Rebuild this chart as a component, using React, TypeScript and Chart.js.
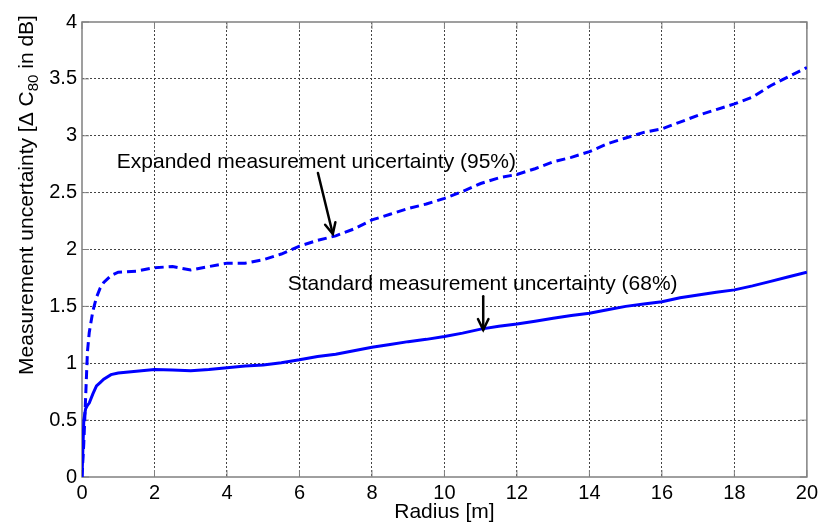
import React, { useEffect, useRef } from "react";
import { Chart, registerables } from "chart.js";

Chart.register(...registerables);

// ---- data ----
const radius = [
  0, 0.05, 0.1, 0.15, 0.2, 0.3, 0.4, 0.5, 0.6, 0.8, 1, 1.5, 2, 2.5, 3, 3.5, 4,
  4.5, 5, 5.5, 6, 6.5, 7, 7.5, 8, 8.5, 9, 9.5, 10, 10.5, 11, 11.5, 12, 12.5, 13,
  13.5, 14, 14.5, 15, 15.5, 16, 16.5, 17, 17.5, 18, 18.5, 19, 19.5, 20,
];

const expanded = [
  0, 0.3, 0.7, 1.1, 1.27, 1.46, 1.58, 1.66, 1.71, 1.77, 1.8, 1.81, 1.84, 1.85,
  1.82, 1.85, 1.88, 1.88, 1.91, 1.96, 2.03, 2.08, 2.12, 2.18, 2.26, 2.31, 2.36,
  2.4, 2.45, 2.51, 2.58, 2.63, 2.66, 2.71, 2.77, 2.81, 2.86, 2.93, 2.98, 3.03,
  3.06, 3.12, 3.18, 3.23, 3.28, 3.34, 3.44, 3.52, 3.6,
];

const standard = [
  0, 0.5, 0.6, 0.63, 0.65, 0.73, 0.8, 0.83, 0.86, 0.9, 0.915, 0.93, 0.945,
  0.94, 0.935, 0.945, 0.96, 0.975, 0.985, 1.005, 1.03, 1.06, 1.08, 1.11, 1.14,
  1.165, 1.19, 1.21, 1.235, 1.265, 1.3, 1.325, 1.345, 1.37, 1.395, 1.42, 1.44,
  1.47, 1.5, 1.52, 1.54, 1.575, 1.6, 1.625, 1.645, 1.68, 1.72, 1.76, 1.8,
];

const xRange = [0, 20];
const yRange = [0, 4];
const xStep = 2;
const yStep = 0.5;

const xTitle = "Radius [m]";
const yTitleParts = ["Measurement uncertainty [\u0394 C", "80", " in dB]"];

// annotations in data coordinates
const annotations = [
  {
    text: "Expanded measurement uncertainty (95%)",
    textAt: [0.96, 2.72],
    from: [6.51, 2.673],
    to: [6.92, 2.136],
  },
  {
    text: "Standard measurement uncertainty (68%)",
    textAt: [5.675, 1.64],
    from: [11.07, 1.589],
    to: [11.07, 1.294],
  },
];

const FONT = '"Liberation Sans", Arial, Helvetica, sans-serif';

const framePlugin = {
  id: "matlabFrame",
  beforeDatasetsDraw(chart: any) {
    const { ctx, chartArea: a, scales } = chart;
    const x = scales.x;
    const y = scales.y;
    ctx.save();
    ctx.strokeStyle = "#808080";
    ctx.lineWidth = 1;
    const L = 7;
    ctx.beginPath();
    x.ticks.forEach((t: any) => {
      const px = x.getPixelForValue(t.value);
      ctx.moveTo(px, a.bottom);
      ctx.lineTo(px, a.bottom - L);
      ctx.moveTo(px, a.top);
      ctx.lineTo(px, a.top + L);
    });
    y.ticks.forEach((t: any) => {
      const py = y.getPixelForValue(t.value);
      ctx.moveTo(a.left, py);
      ctx.lineTo(a.left + L, py);
      ctx.moveTo(a.right, py);
      ctx.lineTo(a.right - L, py);
    });
    ctx.stroke();
    ctx.lineWidth = 1.5;
    ctx.strokeRect(a.left, a.top, a.right - a.left, a.bottom - a.top);
    ctx.restore();
  },
  afterDatasetsDraw(chart: any) {
    const { ctx, scales } = chart;
    const x = scales.x;
    const y = scales.y;
    ctx.save();
    ctx.fillStyle = "#000";
    ctx.strokeStyle = "#000";
    ctx.font = `21px ${FONT}`;
    ctx.textAlign = "left";
    ctx.textBaseline = "alphabetic";
    annotations.forEach((an) => {
      ctx.fillText(
        an.text,
        x.getPixelForValue(an.textAt[0]),
        y.getPixelForValue(an.textAt[1])
      );
      const x1 = x.getPixelForValue(an.from[0]);
      const y1 = y.getPixelForValue(an.from[1]);
      const x2 = x.getPixelForValue(an.to[0]);
      const y2 = y.getPixelForValue(an.to[1]);
      ctx.lineWidth = 2.5;
      ctx.lineCap = "round";
      ctx.beginPath();
      ctx.moveTo(x1, y1);
      ctx.lineTo(x2, y2);
      ctx.stroke();
      const ang = Math.atan2(y2 - y1, x2 - x1);
      const hl = 12;
      const ha = (26 * Math.PI) / 180;
      ctx.beginPath();
      ctx.moveTo(x2 - hl * Math.cos(ang - ha), y2 - hl * Math.sin(ang - ha));
      ctx.lineTo(x2, y2);
      ctx.lineTo(x2 - hl * Math.cos(ang + ha), y2 - hl * Math.sin(ang + ha));
      ctx.stroke();
    });
    ctx.restore();
  },
  afterDraw(chart: any) {
    const { ctx } = chart;
    ctx.save();
    ctx.fillStyle = "#000";
    ctx.textAlign = "left";
    ctx.textBaseline = "alphabetic";
    const mainFont = `21px ${FONT}`;
    const subFont = `15px ${FONT}`;
    ctx.font = mainFont;
    const w1 = ctx.measureText(yTitleParts[0]).width;
    const w3 = ctx.measureText(yTitleParts[2]).width;
    ctx.font = subFont;
    const w2 = ctx.measureText(yTitleParts[1]).width;
    const total = w1 + w2 + w3;
    ctx.translate(33, 195);
    ctx.rotate(-Math.PI / 2);
    let cx = -total / 2;
    ctx.font = mainFont;
    ctx.fillText(yTitleParts[0], cx, 0);
    cx += w1;
    ctx.font = subFont;
    ctx.fillText(yTitleParts[1], cx, 5);
    cx += w2;
    ctx.font = mainFont;
    ctx.fillText(yTitleParts[2], cx, 0);
    ctx.restore();
  },
};

export default function App() {
  const ref = useRef<HTMLCanvasElement>(null);

  useEffect(() => {
    const canvas = ref.current;
    if (!canvas) return;
    const gridColor = (edgeVals: number[]) => (c: any) =>
      edgeVals.includes(c.tick?.value) ? "rgba(0,0,0,0)" : "#444";

    const chart = new Chart(canvas, {
      type: "line",
      data: {
        datasets: [
          {
            label: "Expanded measurement uncertainty (95%)",
            data: radius.map((r, i) => ({ x: r, y: expanded[i] })),
            borderColor: "#0000ff",
            borderWidth: 3,
            borderDash: [9, 5],
            pointRadius: 0,
            tension: 0,
            fill: false,
          },
          {
            label: "Standard measurement uncertainty (68%)",
            data: radius.map((r, i) => ({ x: r, y: standard[i] })),
            borderColor: "#0000ff",
            borderWidth: 3,
            pointRadius: 0,
            tension: 0,
            fill: false,
          },
        ],
      },
      options: {
        animation: false,
        responsive: false,
        devicePixelRatio: 1,
        layout: { padding: { left: 0, right: 14, top: 22, bottom: 0 } },
        plugins: {
          legend: { display: false },
          tooltip: { enabled: false },
        },
        scales: {
          x: {
            type: "linear",
            min: xRange[0],
            max: xRange[1],
            ticks: {
              stepSize: xStep,
              color: "#000",
              font: { family: FONT, size: 20 },
              padding: 4,
              maxRotation: 0,
              callback: (v: any) => String(Number(v)),
            },
            grid: {
              color: gridColor(xRange),
              lineWidth: 1,
              drawTicks: false,
            },
            border: { display: false, dash: [2, 2] },
            title: {
              display: true,
              text: xTitle,
              color: "#000",
              font: { family: FONT, size: 21, lineHeight: 1 },
              padding: { top: 0, bottom: 0 },
            },
            afterFit: (s: any) => {
              s.height = 46;
            },
          },
          y: {
            type: "linear",
            min: yRange[0],
            max: yRange[1],
            ticks: {
              stepSize: yStep,
              color: "#000",
              font: { family: FONT, size: 20 },
              padding: 5,
              callback: (v: any) => String(Number(v)),
            },
            grid: {
              color: gridColor(yRange),
              lineWidth: 1,
              drawTicks: false,
            },
            border: { display: false, dash: [2, 2] },
            afterFit: (s: any) => {
              s.width = 82;
            },
          },
        },
      },
      plugins: [framePlugin],
    } as any);

    return () => chart.destroy();
  }, []);

  return (
    <div
      style={{
        position: "fixed",
        left: 0,
        top: 0,
        width: 822,
        height: 523,
        background: "#fff",
      }}
    >
      <canvas
        ref={ref}
        width={822}
        height={523}
        style={{ display: "block", width: 822, height: 523 }}
      />
    </div>
  );
}
